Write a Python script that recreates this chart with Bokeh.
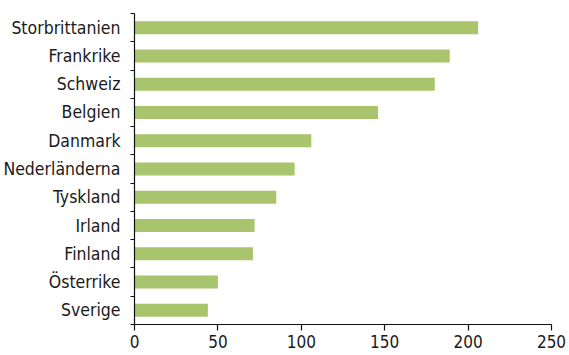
from bokeh.plotting import figure
from bokeh.models import Range1d, FixedTicker, CustomJSTickFormatter
from bokeh.embed import file_html
from bokeh.resources import INLINE

countries = ["Storbrittanien", "Frankrike", "Schweiz", "Belgien", "Danmark",
             "Nederländerna", "Tyskland", "Irland", "Finland", "Österrike", "Sverige"]
values = [206, 189, 180, 146, 106, 96, 85, 72, 71, 50, 44]
x_ticks = [0, 50, 100, 150, 200, 250]

n = len(countries)
ypos = [n - i for i in range(n)]
bottom_up = list(reversed(countries))

FONT = "'DejaVu Sans Condensed', Lato, sans-serif"
BAR = "#a8c46c"
AX = "#111111"

p = figure(width=569, height=355, output_backend="svg", toolbar_location=None,
           x_range=Range1d(0, 250), y_range=Range1d(0.5, n + 0.5),
           min_border_left=134, min_border_right=18, min_border_top=13, min_border_bottom=31)

p.hbar(y=ypos, right=values, left=0, height=0.46, color=BAR, line_color=None)

p.outline_line_color = None
p.grid.visible = False

p.xaxis.ticker = FixedTicker(ticks=x_ticks)
p.xaxis.major_tick_in = 0
p.xaxis.major_tick_out = 6
p.xaxis.minor_tick_out = 0
p.xaxis.minor_tick_in = 0
p.xaxis.axis_line_color = AX
p.xaxis.axis_line_width = 1.2
p.xaxis.major_tick_line_color = AX
p.xaxis.major_tick_line_width = 1.2
p.xaxis.major_label_text_font = FONT
p.xaxis.major_label_text_font_size = "17px"
p.xaxis.major_label_text_color = "#1a1a1a"
p.xaxis.major_label_standoff = 4

p.yaxis.ticker = FixedTicker(ticks=list(range(1, n + 1)),
                             minor_ticks=[k + 0.5 for k in range(0, n + 1)])
p.yaxis.formatter = CustomJSTickFormatter(args=dict(names=bottom_up),
                                          code="const i = Math.round(tick) - 1; return (i >= 0 && i < names.length) ? names[i] : '';")
p.yaxis.major_tick_in = 0
p.yaxis.major_tick_out = 0
p.yaxis.minor_tick_in = 0
p.yaxis.minor_tick_out = 4
p.yaxis.axis_line_color = AX
p.yaxis.axis_line_width = 1.2
p.yaxis.minor_tick_line_color = AX
p.yaxis.minor_tick_line_width = 1.2
p.yaxis.major_label_text_font = FONT
p.yaxis.major_label_text_font_size = "17.5px"
p.yaxis.major_label_text_color = "#1a1a1a"
p.yaxis.major_label_standoff = 10

open("out.html", "w").write(file_html(p, INLINE))
